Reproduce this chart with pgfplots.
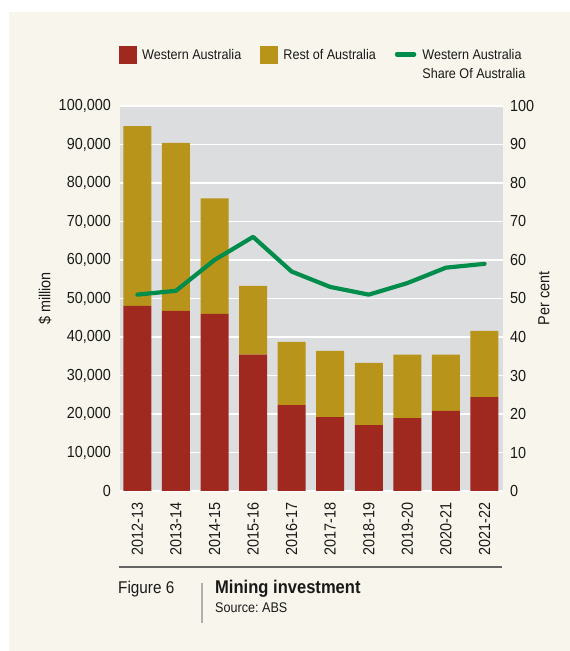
\documentclass[border=0pt]{standalone}
\usepackage{pgfplots}
\pgfplotsset{compat=1.18}
\usepackage{pgfplotstable}
\usepackage{fontspec}
\setmainfont{Liberation Sans}[FakeStretch=0.9]
\frenchspacing
\definecolor{cream}{RGB}{248,246,236}
\definecolor{plotgrey}{RGB}{220,221,223}
\definecolor{wared}{RGB}{160,41,31}
\definecolor{restgold}{RGB}{184,149,26}
\definecolor{sharegreen}{RGB}{0,140,75}
\definecolor{footline}{RGB}{100,100,100}
\definecolor{sepline}{RGB}{175,175,175}
\definecolor{txt}{RGB}{25,25,25}
\pgfplotstableread{
idx wa rest share
0 48100 46700 51
1 46800 43600 52
2 46000 30000 60
3 35400 17900 66
4 22300 16400 57
5 19200 17200 53
6 17100 16200 51
7 18900 16500 54
8 20800 14600 58
9 24400 17200 59
}\datatable
\begin{document}
\begin{tikzpicture}[x=1bp,y=1bp]
\fill[white] (0,0) rectangle (570,651);
\fill[cream] (9,0) rectangle (570,639);
\begin{axis}[
  at={(120bp,160bp)}, anchor=south west,
  scale only axis, width=383bp, height=385bp,
  xmin=-0.45, xmax=9.48, ymin=0, ymax=100000,
  ybar stacked, bar width=28bp,
  axis background/.style={fill=plotgrey},
  axis line style={draw=none},
  major tick length=0pt,
  xtick={0,...,9},
  xticklabels={2012-13,2013-14,2014-15,2015-16,2016-17,2017-18,2018-19,2019-20,2020-21,2021-22},
  ytick={0,10000,...,100000},
  scaled y ticks=false,
  /pgf/number format/fixed,
  /pgf/number format/precision=0,
  /pgf/number format/1000 sep={,},
  /pgf/number format/assume math mode=true,
  ymajorgrids, grid style={white, line width=1.3bp},
  tick label style={font=\fontsize{16bp}{19bp}\selectfont, text=txt, inner sep=0pt},
  xticklabel style={rotate=90, anchor=east},
  xticklabel shift=11bp,
  yticklabel shift=9bp,
  ylabel={\$ million},
  every axis y label/.style={at={(axis description cs:-0.196,0.5)}, rotate=90, anchor=center, font=\fontsize{16bp}{19bp}\selectfont, text=txt},
  legend style={at={(0,1)}, anchor=north west, xshift=-1bp, yshift=60bp,
    draw=none, fill=none, inner sep=0pt, outer sep=0pt,
    font=\fontsize{14bp}{19bp}\selectfont, text=txt,
    column sep=6bp, /tikz/every even column/.append style={column sep=19bp},
    cells={anchor=base west}, nodes={inner sep=0pt}},
  legend columns=3,
]
\addplot[fill=wared, draw=none, forget plot] table[x=idx,y=wa]{\datatable};
\addplot[fill=restgold, draw=none, forget plot] table[x=idx,y=rest]{\datatable};
\addlegendimage{legend image code/.code={\fill[wared] (0bp,-3.7bp) rectangle (16.7bp,13bp);}}
\addlegendentry{Western Australia}
\addlegendimage{legend image code/.code={\fill[restgold] (0bp,-3.7bp) rectangle (16.7bp,13bp);}}
\addlegendentry{Rest of Australia}
\addlegendimage{legend image code/.code={\draw[sharegreen, line width=4.5bp, line cap=round] (1bp,5bp) -- (18bp,5bp);}}
\addlegendentry{\begin{tabular}[t]{@{}l@{}}Western Australia\\Share Of Australia\end{tabular}}
\end{axis}
\begin{axis}[
  at={(120bp,160bp)}, anchor=south west,
  scale only axis, width=383bp, height=385bp,
  xmin=-0.45, xmax=9.48, ymin=0, ymax=100,
  axis x line=none, axis y line*=right, axis line style={draw=none},
  major tick length=0pt,
  ytick={0,10,...,100},
  /pgf/number format/fixed,
  /pgf/number format/assume math mode=true,
  tick label style={font=\fontsize{16bp}{19bp}\selectfont, text=txt, inner sep=0pt},
  yticklabel shift=7bp,
  ylabel={Per cent},
  every axis y label/.style={at={(axis description cs:1.107,0.5)}, rotate=90, anchor=center, font=\fontsize{16bp}{19bp}\selectfont, text=txt},
]
\addplot[sharegreen, line width=4.2bp, line join=round, line cap=round] table[x=idx,y=share]{\datatable};
\end{axis}
\draw[footline, line width=1.5bp] (119,84) -- (502,84);
\node[anchor=base west, inner sep=0pt, text=txt, font=\fontsize{17bp}{20bp}\selectfont] at (118,57) {Figure 6};
\draw[sepline, line width=1.2bp] (202,28) -- (202,68);
\node[anchor=base west, inner sep=0pt, text=txt, font=\bfseries\fontsize{18.4bp}{20bp}\selectfont] at (215,57) {Mining investment};
\node[anchor=base west, inner sep=0pt, text=txt, font=\fontsize{14bp}{16bp}\selectfont] at (215,38) {Source: ABS};
\end{tikzpicture}
\end{document}
